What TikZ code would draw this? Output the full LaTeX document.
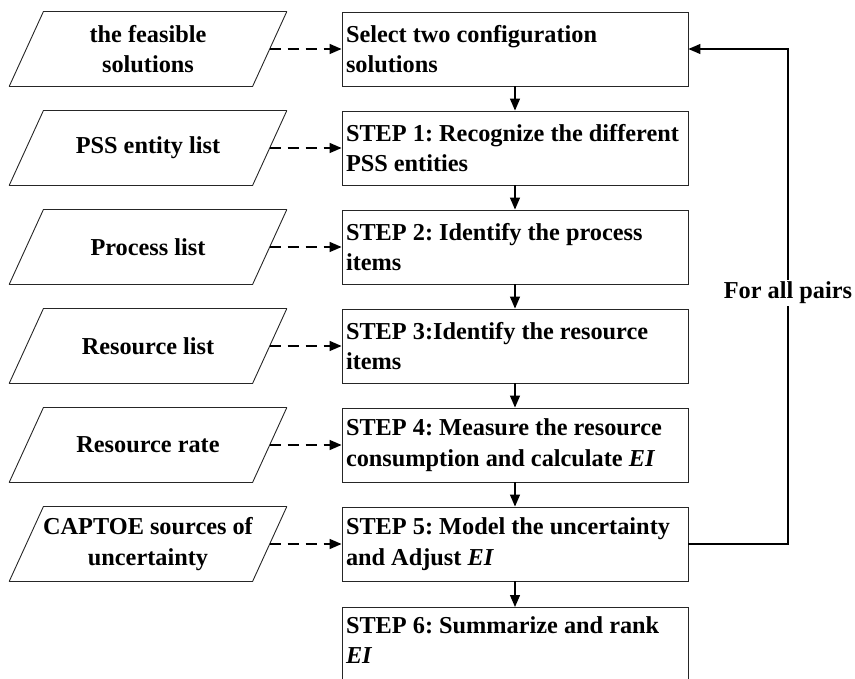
\documentclass[tikz,border=0pt]{standalone}
\usepackage{fontspec}
\setmainfont{Liberation Serif}
\usetikzlibrary{arrows.meta}
\hyphenpenalty=10000
\exhyphenpenalty=10000

\tikzset{
  stepbox/.style={draw=black!85, line width=0.9pt, rectangle,
    minimum width=346pt, minimum height=74pt, text width=338pt,
    inner xsep=4pt, inner ysep=5pt, align=flush left,
    font=\bfseries\fontsize{24.3}{30.5}\selectfont\frenchspacing},
  edgeline/.style={draw=black!85, line width=0.9pt, line cap=round},
  databox/.style={minimum width=243pt, minimum height=74pt, inner sep=0pt,
    align=center, font=\bfseries\fontsize{24.3}{30.5}\selectfont\frenchspacing,
    append after command={
      ([xshift=17pt]\tikzlastnode.north west) edge[edgeline] ([xshift=17pt]\tikzlastnode.north east)
      ([xshift=17pt]\tikzlastnode.north east) edge[edgeline] ([xshift=-17pt]\tikzlastnode.south east)
      ([xshift=-17pt]\tikzlastnode.south east) edge[edgeline] ([xshift=-17pt]\tikzlastnode.south west)
      ([xshift=-17pt]\tikzlastnode.south west) edge[edgeline] ([xshift=17pt]\tikzlastnode.north west)}},
  flow/.style={line width=1.3pt, -{Triangle[length=12pt,width=10pt]}},
  feed/.style={flow, line width=1.5pt, dash pattern=on 11pt off 7pt},
}

\begin{document}
\begin{tikzpicture}[x=1pt,y=-1pt]
    \clip (0,0) rectangle (855,679);
    \node[stepbox] (s0) at (515,49) {Select two configuration\\solutions};
    \node[stepbox] (s1) at (515,148) {STEP 1: Recognize the different\\PSS entities};
    \node[stepbox] (s2) at (515,247) {STEP 2: Identify the process\\items};
    \node[stepbox] (s3) at (515,346) {STEP 3:Identify the resource\\items};
    \node[stepbox] (s4) at (515,445) {STEP 4: Measure the resource\\consumption and calculate \textit{EI}};
    \node[stepbox] (s5) at (515,544) {STEP 5: Model the uncertainty\\and Adjust \textit{EI}};
    \node[stepbox, anchor=north, minimum height=0pt, inner ysep=9pt, text depth=40pt] (s6) at (515,607) {STEP 6: Summarize and rank\\\textit{EI}};
    \node[databox] (d0) at (148,49) {the feasible\\solutions};
    \node[databox] (d1) at (148,148) {PSS entity list};
    \node[databox] (d2) at (148,247) {Process list};
    \node[databox] (d3) at (148,346) {Resource list};
    \node[databox] (d4) at (148,445) {Resource rate};
    \node[databox] (d5) at (148,544) {CAPTOE sources of\\uncertainty};
    \coordinate (loop) at (788,293);
    \path[flow] (s0) edge (s1) (s1) edge (s2) (s2) edge (s3) (s3) edge (s4) (s4) edge (s5) (s5) edge (s6);
    \path[feed] (d0.east) edge (s0.west) (d1.east) edge (s1.west) (d2.east) edge (s2.west)
        (d3.east) edge (s3.west) (d4.east) edge (s4.west) (d5.east) edge (s5.west);
    \draw[flow] (s5.east) -- (s5.east -| loop) -- (s0.east -| loop) -- (s0.east);
    \node[fill=white, inner sep=2pt, font=\bfseries\fontsize{24.3}{30}\selectfont] (pairs) at (loop) {For all pairs};
\end{tikzpicture}
\end{document}
